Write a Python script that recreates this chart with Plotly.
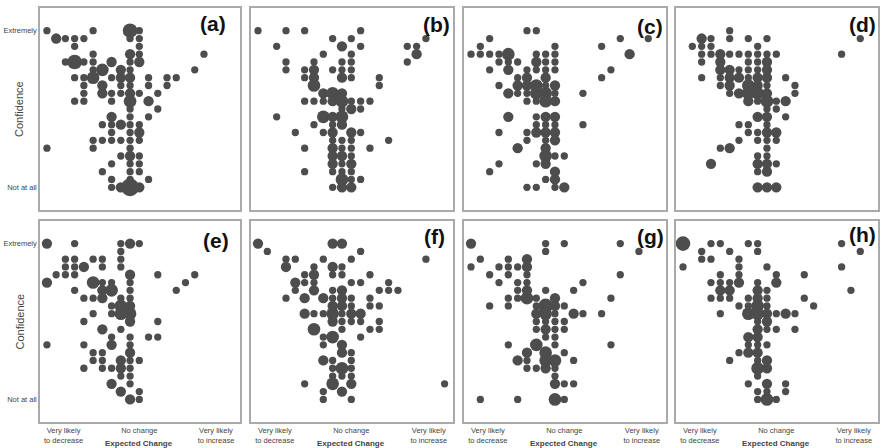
import math
import plotly.graph_objects as go

# ---------------- data ----------------
# Confidence rows (20 = "Extremely" ... 0 = "Not at all"), expected-change columns 0..20
confidence_rows = [20, 19, 18, 17, 16, 15, 14, 13, 12, 11, 10, 9, 8, 7, 6, 5, 4, 3, 2, 1, 0]
y_tick_vals = [0, 20]
y_tick_text = ["Not at all", "Extremely"]
x_tick_vals = [1.8, 10, 18.3]
x_tick_text = ["Very likely<br>to decrease", "No change", "Very likely<br>to increase"]
panel_labels = ["(a)", "(b)", "(c)", "(d)", "(e)", "(f)", "(g)", "(h)"]

a_cols = [[0,5,9,10],[1,2,3,4,9,10],[3,10],[5,9,10,17],[2,3,4,5,7,9,10],[5,6,8,9,16],
          [3,4,5,7,8,9,11,13,14],[4,6,8,9,11,13],[4,6,7,8,9,10,12],[3,4,7,9,11],[9,12],[7,9,11],
          [6,7,8,9,10],[7,9,10],[5,6,7,8,9,10],[0,5,9],[8,9,10],[7,9,10],[6,9,10],[7,9,11],[7,8,9,10]]
a_n = [[1,1,4,1],[2,1,1,1,1,1],[1,1],[1,2,1,1],[1,4,1,1,2,1,2],[1,3,2,1,1],
       [1,1,3,1,2,2,1,1,1],[1,2,1,1,1,1],[1,2,1,1,2,1,1],[1,1,1,3,2],[1,1],[2,1,1],
       [1,1,2,1,1],[1,1,2],[1,1,1,1,1,1],[1,1,1],[1,2,1],[1,1,1],[1,1,1],[1,1,1],[1,2,6,2]]

b_cols = [[0,3,5,11],[8,10,18],[2,9,11,16,17],[7,10,17],[3,6,9,10,16],[3,5,6,8,9,10],
          [5,6,9,10,13],[6,13],[7,8,9],[5,6,7,8,9,10,11,12],[9,10,11],[2,7,8,9],[6,8,9],
          [4,7,8,10,11],[8,9,10,14],[5,8,9,10,12],[8,9,10],[8,9,10],[5,8,9,10],[9,10,11],[8,9,10]]
b_n = [[1,1,1,1],[1,1,1],[1,2,1,1,1],[1,1,2],[1,1,1,1,1],[1,1,2,1,1,1],
       [1,2,2,1,1],[3,1],[2,3,2],[1,1,1,2,3,1,1,1],[1,2,1],[1,3,2,3],[1,1,2],
       [1,1,2,2,1],[1,1,1,1],[1,2,1,1,1],[2,2,1],[2,1,2],[1,1,1,1],[3,1,1],[1,2,2]]

c_cols = [[6,7],[2,16,19],[1,9,14],[0,1,2,3,4,7,8,9,17],[3,4,5,7,8,9],[2,4,6,7,8,9,15],
          [5,6,8,14],[3,5,6,7,8,9],[4,5,6,7,8,9,12],[6,7,8,9],[],[4,7,8,9],[7,8,9,12],
          [3,6,7,8,9],[6,8,9],[5,8],[8,9,10],[3,7,8],[2,9],[8,9],[6,7,9,10]]
c_n = [[1,1],[1,1,1],[1,1,1],[1,1,1,1,3,1,1,1,2],[1,1,1,2,1,1],[1,2,1,1,1,1,1],
       [1,2,2,1],[1,2,2,3,1,2],[2,1,1,3,3,1,1],[1,1,3,2],[],[2,1,2,2],[1,1,1,1],
       [1,1,2,2,2],[1,1,2],[2,2],[3,1,1],[1,1,2],[1,2],[1,2],[1,1,1,2]]

d_cols = [[5],[2,3,5,7,9,19],[1,2,3,8],[2,3,4,5,6,7,8,9,10,17],[2,4,7,8,9],[4,5,6,7,8,9],
          [2,4,5,6,7,8,9,11],[4,5,7,8,9,12],[5,6,7,8,9,12],[7,8,9,10,11],[9,10],[8,9,11],
          [6,7,9],[7,8,9,10],[6,8,9,10],[4,5,9],[8,9],[3,8,9,10],[8,9],[],[8,9,10]]
d_n = [[1],[2,1,1,1,1,1],[1,1,1,1],[1,1,2,1,1,1,1,1,1,1],[1,2,1,1,2],[2,2,1,1,1,2],
       [1,1,2,2,1,2,2,1],[1,2,3,2,1,1],[1,2,3,3,2,1],[2,1,3,1,2],[1,1],[2,2,1],
       [1,1,1],[1,1,2,2],[1,1,1,1],[1,2,1],[1,1],[2,2,2,1],[1,2],[],[2,2,2]]

e_cols = [[0,3,8,9,10],[8],[2,3,5,6,8],[2,3,4,6,8],[1,2,3,9,12,16],[0,5,6,7,9,15],
          [3,6,7,9,14],[4,5,6,8,9],[7,8,9],[5,7,8,9],[4,9,12],[6,8],[7,9,11,12],
          [0,4,7,9],[5,6,9],[5,6,8,9,10],[4,6,7,8,9],[8,9],[7,9],[8,10],[9,10]]
e_n = [[2,1,1,2,1],[1],[1,1,1,1,1],[1,1,2,1,1],[1,1,1,2,1,1],[2,3,1,1,1,1],
       [1,2,3,1,1],[1,1,2,1,1],[1,3,2],[1,1,3,3],[1,2,1],[2,1],[1,1,1,1],
       [1,1,2,1],[1,1,2],[1,1,2,1,1],[1,1,1,2,1],[1,1],[2,1],[2,1],[2,1]]

f_cols = [[0,8,9],[1,11],[3,4,7,10,18],[3,6,8,9],[5,6,8,9,12],[4,5,6,10,11,14],
          [4,6,8,9,13,14,15],[3,5,7,8,9,10,12],[8,9,10,12,13],[5,6,7,8,9,10,11],
          [8,9,10,11,13],[6,9,12,13],[7,8,11],[7,9],[9,10],[7,8,10],[8,9,10],[8,9,10],
          [5,8,10,20],[7,9],[7,10]]
f_n = [[2,2,2],[1,1],[1,1,1,1,1],[2,1,2,1],[1,2,1,1,1],[2,1,1,1,1,1],
       [1,2,1,2,1,1,1],[1,2,2,1,2,1,1],[2,2,1,1,1],[2,1,1,3,1,2,2],
       [2,1,1,1,1],[3,1,1,1],[1,3,1],[1,2],[2,1],[2,1,1],[1,3,1],[1,1,1],
       [1,3,2,1],[1,2],[1,1]]

g_cols = [[0,8,10,16],[8,18],[1,4,6],[0,3,4,5,6],[2,4,6,16],[3,5,6,12],[5,6,8,11],
          [4,5,6,7,9,15],[2,4,7,8,9,10],[7,8,9,11,12,14],[7,8,9,10],[7,8,9,10],[8,9],
          [4,7,9,15],[6,8,10],[5,6,8,9,11],[6,7,8,9],[9],[9,10,11],[],[1,5,9,10]]
g_n = [[2,1,1,1],[1,1],[1,1,2],[1,1,1,1,2],[1,1,1,1],[1,1,1,1],[1,2,1,1],
       [1,1,3,1,2,1],[1,1,1,4,2,1],[2,3,1,2,1,1],[1,1,1,1],[1,2,1,1],[1,1],
       [1,3,1,1],[2,3,1],[2,1,3,3,1],[1,1,2,1],[1],[2,1,1],[],[1,1,3,1]]

h_cols = [[0,3,4,7,8,17],[2,5,8,19],[2,3,6],[0,6,9,17],[4,6,10,13],[3,4,5,6,8,10],
          [4,5,8,9,18],[3,4,5,7,8,9,13],[6,7,8,9,14],[4,7,8,9,10,11,12],[8,9],[8,9,10,12],
          [7,8],[7,8,9],[6,7,8],[5,8,9],[8,9],[8],[7,9,11],[8,9,11],[8,9,10]]
h_n = [[4,1,1,1,1,1],[1,1,1,1],[1,1,1],[1,1,1,1],[1,1,1,1],[1,1,1,2,1,2],
       [2,2,2,1,1],[1,1,1,1,2,1,1],[1,1,3,1,1],[1,3,3,2,1,2,1],[1,2],[2,1,1,1],
       [2,2],[1,1,1],[1,2,2],[1,1,2],[3,2],[1],[1,2,1],[1,1,1],[1,3,1]]

# ---------------- layout ----------------
W, H = 887, 448
panel_cols = [a_cols, b_cols, c_cols, d_cols, e_cols, f_cols, g_cols, h_cols]
panel_ns = [a_n, b_n, c_n, d_n, e_n, f_n, g_n, h_n]
x_px = [(40, 240), (251, 453), (464, 666), (676, 878)]
y_px = [(8, 210), (221, 422)]
label_pos = [(228, 23.5), (452, 24), (665, 26), (878, 24),
             (231, 240), (447, 237), (666, 236), (878, 234)]

DOT = "#4d4d4d"
FONT = "Liberation Sans, Arial, sans-serif"

fig = go.Figure()
layout = dict(
    width=W, height=H, margin=dict(l=0, r=0, t=0, b=0),
    paper_bgcolor="white", plot_bgcolor="white", showlegend=False,
    font=dict(family=FONT, color="#444"),
)
annotations = []

for i in range(8):
    r, c = divmod(i, 4)
    k = i + 1
    sfx = "" if k == 1 else str(k)
    xs, ys, ss = [], [], []
    for row, rc, rn in zip(confidence_rows, panel_cols[i], panel_ns[i]):
        assert len(rc) == len(rn), (i, row)
        for cc, nn in zip(rc, rn):
            xs.append(cc)
            ys.append(row)
            ss.append(7.3 * math.sqrt(nn))
    fig.add_trace(go.Scatter(
        x=xs, y=ys, mode="markers",
        marker=dict(size=ss, color=DOT, line=dict(width=0), opacity=1),
        xaxis="x" + sfx, yaxis="y" + sfx, hoverinfo="skip", cliponaxis=False,
    ))
    x0, x1 = x_px[c]
    y0, y1 = y_px[r]
    layout["xaxis" + sfx] = dict(
        domain=[x0 / W, x1 / W], range=[-0.75, 20.9], anchor="y" + sfx,
        showgrid=False, zeroline=False, showline=True, mirror=True,
        linecolor="#aaaaaa", linewidth=1.5, ticks="",
        tickvals=x_tick_vals, ticktext=x_tick_text, showticklabels=(r == 1),
        tickfont=dict(size=7.5, color="#444", family=FONT), fixedrange=True,
    )
    layout["yaxis" + sfx] = dict(
        domain=[1 - y1 / H, 1 - y0 / H], range=[-2.9, 22.9], anchor="x" + sfx,
        showgrid=False, zeroline=False, showline=True, mirror=True,
        linecolor="#aaaaaa", linewidth=1.5, ticks="",
        tickvals=y_tick_vals, ticktext=y_tick_text, showticklabels=(c == 0),
        tickfont=dict(size=7.5, color="#444", family=FONT), fixedrange=True,
    )
    lx, ly = label_pos[i]
    annotations.append(dict(
        text="<b>%s</b>" % panel_labels[i], x=lx / W, y=1 - ly / H,
        xref="paper", yref="paper", xanchor="right", yanchor="middle",
        showarrow=False, font=dict(size=21, color="#111", family=FONT),
    ))
    if r == 1:
        annotations.append(dict(
            text="<b>Expected Change</b>", x=10, xref="x" + sfx,
            y=1 - 443 / H, yref="paper", xanchor="center", yanchor="middle",
            showarrow=False, font=dict(size=8, color="#444", family=FONT),
        ))

for cy in [(8 + 210) / 2, (221 + 422) / 2]:
    annotations.append(dict(
        text="Confidence", x=19 / W, y=1 - cy / H, xref="paper", yref="paper",
        xanchor="center", yanchor="middle", textangle=-90, showarrow=False,
        font=dict(size=11, color="#444", family=FONT),
    ))

layout["annotations"] = annotations
fig.update_layout(**layout)
fig.write_html("out.html")
